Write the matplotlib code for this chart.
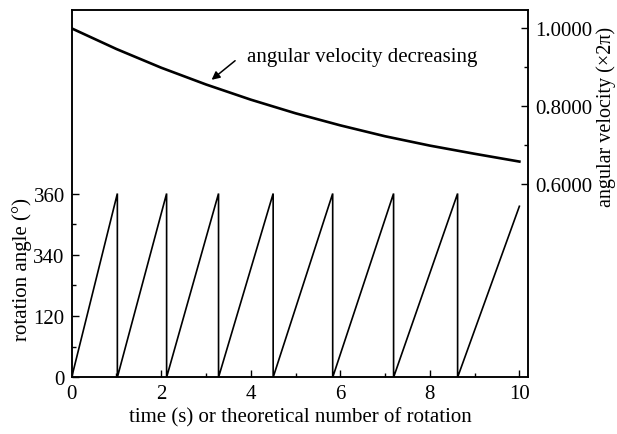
import matplotlib
matplotlib.use("Agg")
import matplotlib.pyplot as plt
import numpy as np

plt.rcParams['font.family'] = ['Liberation Serif', 'DejaVu Serif']
plt.rcParams['mathtext.fontset'] = 'stix'

# angular velocity (in units of 2*pi rad/s) sampled once per second
time_s = [0, 1, 2, 3, 4, 5, 6, 7, 8, 9, 10]
angular_velocity = [1.000, 0.947, 0.899, 0.856, 0.817, 0.782,
                    0.751, 0.723, 0.699, 0.678, 0.658]

# rotation angle: each cycle ramps from 0 to its end angle, then resets
cycle_start = [0, 1.02, 2.12, 3.28, 4.50, 5.83, 7.19, 8.62]
cycle_end = [1.02, 2.12, 3.28, 4.50, 5.83, 7.19, 8.62, 10.0]
cycle_end_angle = [360, 360, 360, 360, 360, 360, 360, 335]

x_ticks = [0, 2, 4, 6, 8, 10]
x_tick_labels = ['0', '2', '4', '6', '8', '10']
angle_ticks = [0, 120, 240, 360]
angle_tick_labels = ['0', '120', '340', '360']
velocity_ticks = [0.6, 0.8, 1.0]
velocity_tick_labels = ['0.6000', '0.8000', '1.0000']

FS = 15

fig = plt.figure(figsize=(6.17, 4.35), dpi=100)
ax = fig.add_axes([0.1162, 0.1303, 0.7401, 0.8451])
ax2 = ax.twinx()

# sawtooth of the rotation angle
saw_x, saw_y = [], []
for s, e, a in zip(cycle_start, cycle_end, cycle_end_angle):
    saw_x += [s, e]
    saw_y += [0, a]
    if a >= 360:
        saw_x.append(e)
        saw_y.append(0)
ax.plot(saw_x, saw_y, color='black', lw=1.2, solid_joinstyle='miter')

ax.set_xlim(0, 10.2)
ax.set_ylim(0, 720)
ax.set_xticks(x_ticks)
ax.set_xticklabels(x_tick_labels, fontsize=FS)
ax.set_xticks([1, 3, 5, 7, 9], minor=True)
ax.set_yticks(angle_ticks)
ax.set_yticklabels(angle_tick_labels, fontsize=FS)
ax.set_yticks([60, 180, 300], minor=True)
ax.tick_params(which='both', direction='in', top=False, right=False)
ax.tick_params(which='major', length=5, width=1.0, pad=5)
ax.tick_params(which='minor', length=3, width=1.0)
ax.set_xlabel('time (s) or theoretical number of rotation', fontsize=FS, labelpad=3)
ax.set_ylabel('rotation angle (°)', fontsize=FS)
ax.yaxis.set_label_coords(-0.088, 0.295)

# decreasing angular velocity on the right axis
ax2.plot(time_s, angular_velocity, color='black', lw=1.9)
ax2.set_ylim(0.104, 1.048)
ax2.set_yticks(velocity_ticks)
ax2.set_yticklabels(velocity_tick_labels, fontsize=FS)
ax2.set_yticks([0.7, 0.9], minor=True)
ax2.tick_params(which='both', direction='in')
ax2.tick_params(which='major', length=5, width=1.0, pad=5)
ax2.tick_params(which='minor', length=3, width=1.0)
ax2.set_ylabel('angular velocity (\u00d72\u03c0)', fontsize=14.5)
ax2.yaxis.set_label_coords(1.149, 0.71)

for a in (ax, ax2):
    for sp in a.spines.values():
        sp.set_linewidth(1.1)

ax2.annotate('', xy=(3.125, 0.868), xytext=(3.65, 0.917),
             arrowprops=dict(arrowstyle='-|>', color='black', lw=1.1,
                             mutation_scale=12, shrinkA=0, shrinkB=0))
ax2.text(3.91, 0.917, 'angular velocity decreasing', fontsize=FS,
         ha='left', va='baseline')

fig.savefig('out.png', dpi=100)
